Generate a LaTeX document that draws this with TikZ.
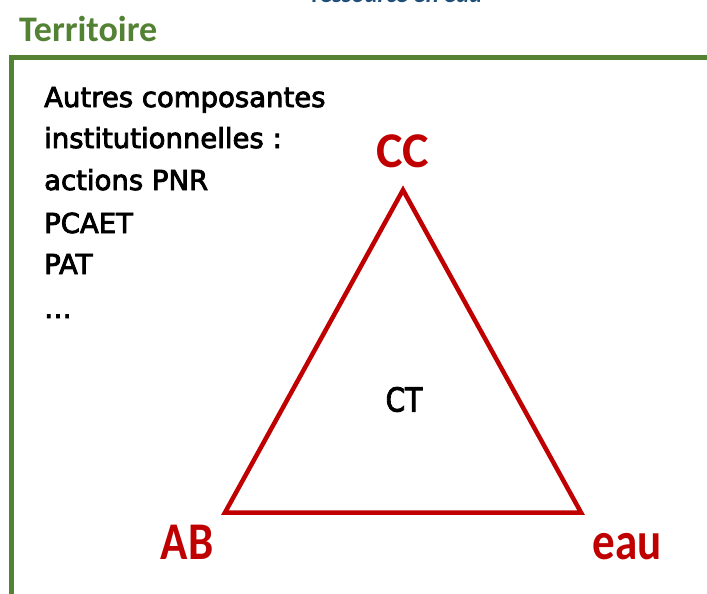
\documentclass[tikz,border=0pt]{standalone}
\usepackage{fontspec}
\setmainfont{DejaVu Sans}
\newfontfamily\bodyfont{DejaVu Sans}[FakeBold=3]
\newfontfamily\labfont{Carlito}
\definecolor{tgreen}{HTML}{548235}
\definecolor{tred}{HTML}{C00000}
\definecolor{tblue}{HTML}{1F4E79}
\tikzset{
  bodytext/.style={anchor=base west, inner sep=0pt, font=\bodyfont\fontsize{27.5}{33}\selectfont, text=black},
  redlabel/.style={anchor=base, inner sep=0pt, text=tred, font=\labfont\bfseries\fontsize{53}{60}\selectfont},
  greenframe/.style={draw=tgreen, line width=5pt},
  tri/.style={draw=tred, line width=4.5pt, line join=miter},
}
\begin{document}
\begin{tikzpicture}[x=1pt,y=-1pt]
\useasboundingbox (0,0) rectangle (707,594);
\clip (0,0) rectangle (707,594);
\fill[white] (0,0) rectangle (707,594);
\node[anchor=base, inner sep=0pt, text=tblue, font=\labfont\bfseries\itshape\fontsize{24.5}{28}\selectfont] (title) at (397,3) {ressource en eau};
\node[anchor=base west, inner sep=0pt, text=tgreen, font=\labfont\bfseries\fontsize{36}{40}\selectfont] (terr) at (19,41.7) {Territoire};
\draw[greenframe] (11,720) -- (11,58) -- (730,58);
\node[bodytext] (l1) at (44,107) {Autres composantes};
\node[bodytext] (l2) at (44,148) {institutionnelles :};
\node[bodytext] (l3) at (44,190) {actions PNR};
\node[bodytext] (l4) at (44,233) {PCAET};
\node[bodytext] (l5) at (44,274) {PAT};
\node[bodytext] (l6) at (44,318) {…};
\coordinate (cc) at (403,190);
\coordinate (ab) at (225,512.5);
\coordinate (ea) at (581,512.5);
\draw[tri] (cc) -- (ab) -- (ea) -- cycle;
\node[redlabel, font=\labfont\bfseries\fontsize{50}{56}\selectfont] (lcc) at (403,167) {CC};
\node[redlabel] (lab) at (187,559) {\scalebox{0.85}[1]{AB}};
\node[redlabel] (lea) at (627,559) {\scalebox{0.85}[1]{eau}};
\node[anchor=base, inner sep=0pt, font=\bodyfont\fontsize{33}{40}\selectfont] (ct) at (404,411.5) {\scalebox{0.85}[1]{CT}};
\end{tikzpicture}
\end{document}
